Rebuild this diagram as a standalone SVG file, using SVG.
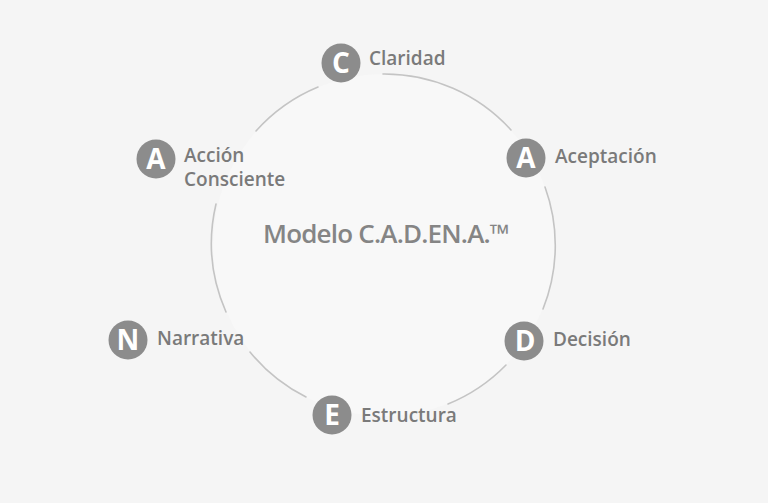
<svg xmlns="http://www.w3.org/2000/svg" width="768" height="503" viewBox="0 0 768 503">
<style>
.bg{fill:#f5f5f5}
.ring{fill:none;stroke:#c4c4c4;stroke-width:1.6;stroke-linecap:round}
.dot{fill:#8c8c8c}
.let{font-family:"Open Sans","Liberation Sans",sans-serif;font-weight:700;font-size:28px;fill:#ffffff;text-anchor:middle}
.lbl{font-family:"Open Sans","Liberation Sans",sans-serif;font-weight:600;font-size:19px;fill:#7a7a7a}
.title{font-family:"Open Sans","Liberation Sans",sans-serif;font-weight:600;font-size:26px;fill:#858585;letter-spacing:-0.8px}
</style>
<rect class="bg" x="0" y="0" width="768" height="503"/>
<circle cx="384" cy="245" r="171" fill="#f8f8f8"/>
<g id="connectors">
<path class="ring" d="M383,74 A171,171 0 0 1 511,130"/>
<path class="ring" d="M545,187 A171,171 0 0 1 543,309"/>
<path class="ring" d="M506,365 A171,171 0 0 1 448,404"/>
<path class="ring" d="M306,397 A171,171 0 0 1 250,352"/>
<path class="ring" d="M226,312 A171,171 0 0 1 216,204"/>
<path class="ring" d="M256,131 A171,171 0 0 1 318,87"/>
</g>
<text class="title" x="263" y="243">Modelo C.A.D.EN.A.™</text>
<g id="node-c">
<circle class="dot" cx="341" cy="63" r="19.5"/>
<text class="let" x="341" y="73">C</text>
<text class="lbl" x="369" y="65">Claridad</text>
</g>
<g id="node-a1">
<circle class="dot" cx="526" cy="158" r="19.5"/>
<text class="let" x="526" y="168">A</text>
<text class="lbl" x="555" y="163">Aceptación</text>
</g>
<g id="node-d">
<circle class="dot" cx="524" cy="341" r="19.5"/>
<text class="let" x="525" y="351">D</text>
<text class="lbl" x="553" y="346">Decisión</text>
</g>
<g id="node-e">
<circle class="dot" cx="332" cy="415" r="19.5"/>
<text class="let" x="332" y="425">E</text>
<text class="lbl" x="361" y="422">Estructura</text>
</g>
<g id="node-n">
<circle class="dot" cx="128" cy="340" r="19.5"/>
<text class="let" x="128" y="350">N</text>
<text class="lbl" x="157" y="345">Narrativa</text>
</g>
<g id="node-a2">
<circle class="dot" cx="156" cy="159" r="19.5"/>
<text class="let" x="156" y="169">A</text>
<text class="lbl" x="184" y="162">Acción</text>
<text class="lbl" x="184" y="186">Consciente</text>
</g>
</svg>
